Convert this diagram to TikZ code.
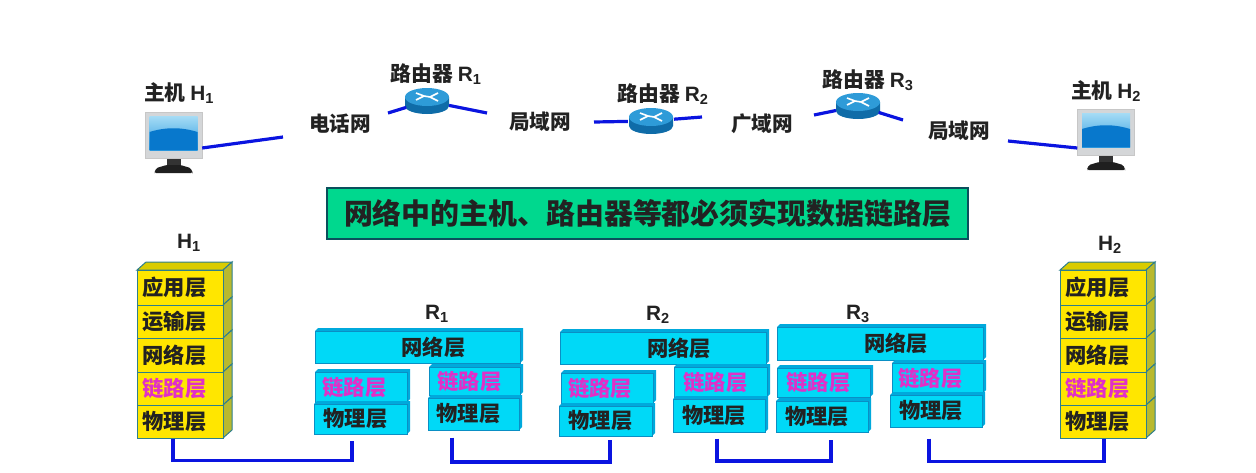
\documentclass[tikz,border=0pt]{standalone}
\usepackage{xcolor}
\usepackage{fontspec}
\setmainfont{Noto Sans CJK SC}
\newfontfamily\latfont{Liberation Sans}
\usepackage{tikz}
\usetikzlibrary{positioning,shapes.geometric}
\definecolor{WireBlue}{HTML}{0A14E0}
\definecolor{StackYellow}{HTML}{FFE600}
\definecolor{StackTop}{HTML}{D9CC00}
\definecolor{StackSide}{HTML}{B9B92E}
\definecolor{StackEdge}{HTML}{2E7F8C}
\definecolor{RouterCyan}{HTML}{00D9F7}
\definecolor{RouterSide}{HTML}{00A9DC}
\definecolor{RouterEdge}{HTML}{0A8FC4}
\definecolor{BannerGreen}{HTML}{00D88E}
\definecolor{BannerEdge}{HTML}{0B4F5C}
\definecolor{LinkPink}{HTML}{E030C8}
\definecolor{InkGrey}{HTML}{222222}
\definecolor{ScreenLight}{HTML}{A6DCF5}
\definecolor{ScreenMid}{HTML}{2E9BE0}
\definecolor{ScreenDark}{HTML}{0878CC}
\definecolor{CaseGrey}{HTML}{D4D6D8}
\definecolor{DiscTop}{HTML}{2E9BD8}
\definecolor{DiscSide}{HTML}{0F6CA8}
\tikzset{
  hlayer/.style={draw=StackEdge,fill=StackYellow,line width=1pt,inner sep=0pt,
    font=\fontsize{21.3}{23}\selectfont\bfseries\color{InkGrey}},
  rlayer/.style={draw=RouterEdge,fill=RouterCyan,line width=1pt,inner sep=0pt,
    font=\fontsize{21.3}{23}\selectfont\bfseries\color{InkGrey}},
  pinktext/.style={text=LinkPink},
  wire/.style={line width=3.6pt,draw=WireBlue,line join=miter},
  netlink/.style={line width=3.2pt,draw=WireBlue},
  devlabel/.style={font=\fontsize{20.8}{22}\selectfont\bfseries\color{InkGrey},inner sep=0pt},
  netlabel/.style={font=\fontsize{20.6}{22}\selectfont\bfseries\color{InkGrey},inner sep=0pt},
  banner/.style={draw=BannerEdge,fill=BannerGreen,line width=1.4pt,
    minimum width=641pt,minimum height=51pt,inner sep=0pt,
    font=\fontsize{28.9}{30}\selectfont\bfseries\color{InkGrey}},
}
% one block of a router stack: [depth]{name}{x1}{y1}{x2}{y2}{style}{text shift}{text}
\newcommand{\layerbox}[9][3]{
  \fill[RouterSide] (#3,#4) -- ++(#1,-#1) -- (#5+#1,#4-#1) -- (#5+#1,#6-#1) -- (#5,#6) -- (#5,#4) -- cycle;
  \node[#7,minimum width={(#5-#3)*1pt},minimum height={(#6-#4)*1pt}] (#2) at ({(#3+#5)/2},{(#4+#6)/2}) {\hspace*{#8pt}#9};
}
% one block of a host stack: {name}{x1}{y1}{x2}{y2}{style}{text shift}{text}
\newcommand{\stackbox}[8]{
  \fill[StackSide] (#4,#3) -- ++(9,-8) -- (#4+9,#5-8) -- (#4,#5) -- cycle;
  \draw[StackEdge,line width=1pt] (#4,#3) -- ++(9,-8) -- (#4+9,#5-8) -- (#4,#5);
  \node[#6,minimum width={(#4-#2)*1pt},minimum height={(#5-#3)*1pt}] (#1) at ({(#2+#4)/2},{(#3+#5)/2}) {\hspace*{#7pt}#8};
}
\newcommand{\stacktop}[3]{
  \filldraw[StackEdge,fill=StackTop,line width=1pt] (#1,#3) -- ++(9,-8) -- (#2+9,#3-8) -- (#2,#3) -- cycle;
}
\newcommand{\hostpc}[3]{
  \fill[black!80] (#2-7,#3+46) rectangle (#2+7,#3+56);
  \fill[black!88,rounded corners=1.5pt] (#2-19,#3+60) -- (#2-17,#3+56) -- (#2-7,#3+53) -- (#2+7,#3+53) -- (#2+17,#3+56) -- (#2+19,#3+60) -- (#2+19,#3+61) -- (#2-19,#3+61) -- cycle;
  \node[draw=black!22,fill=CaseGrey,minimum width=57pt,minimum height=46pt,inner sep=0pt] (#1) at (#2,#3+23) {};
  \shade[top color=ScreenLight,bottom color=ScreenMid] (#2-24,#3+4) rectangle (#2+24,#3+38);
  \fill[ScreenDark] (#2-24,#3+20) .. controls (#2-8,#3+15) and (#2+8,#3+15) .. (#2+24,#3+20) -- (#2+24,#3+38) -- (#2-24,#3+38) -- cycle;
}
\newcommand{\router}[3]{
  \node[ellipse,minimum width=46pt,minimum height=28pt,inner sep=0pt] (#1) at (#2,#3) {};
  \fill[DiscSide] (#2-22,#3-4) -- (#2-22,#3+5) arc[start angle=180,end angle=0,x radius=22,y radius=8] -- (#2+22,#3-4) -- cycle;
  \fill[DiscTop] (#2,#3-4) ellipse[x radius=22,y radius=9];
  \draw[white,line width=1.6pt] (#2-11,#3-8) -- (#2-3,#3-5) -- (#2-11,#3-1) (#2+11,#3-8) -- (#2+3,#3-4) -- (#2+11,#3) (#2-3,#3-5) -- (#2+3,#3-4);
}
\newcommand{\subno}[2]{{\latfont #1\textsubscript{#2}}}
\begin{document}
\begin{tikzpicture}[x=1pt,y=-1pt]
  \useasboundingbox (0,0) rectangle (1256,472);
  % Devices
  \hostpc{h1}{173.5}{112}
  \hostpc{h2}{1106}{109}
  \router{r1}{427}{101}
  \router{r2}{651}{121}
  \router{r3}{858}{106}
  \node[devlabel] (h1label) at (179,93) {主机 \subno{H}{1}};
  \node[devlabel] (h2label) at (1106,91) {主机 \subno{H}{2}};
  \node[devlabel] (r1label) at (436,74) {路由器 \subno{R}{1}};
  \node[devlabel] (r2label) at (663,94) {路由器 \subno{R}{2}};
  \node[devlabel] (r3label) at (868,80) {路由器 \subno{R}{3}};
  % Networks
  \node[netlabel] (net1) at (340,124) {电话网};
  \node[netlabel] (net2) at (540,122) {局域网};
  \node[netlabel] (net3) at (762,124) {广域网};
  \node[netlabel] (net4) at (959,131) {局域网};
  \coordinate (a1) at (283,137);
  \coordinate (a2) at (388,113);
  \coordinate (a3) at (487,113);
  \coordinate (a4) at (594,122);
  \coordinate (a5) at (702,117);
  \coordinate (a6) at (814,115);
  \coordinate (a7) at (903,120);
  \coordinate (a8) at (1008,141);
  \draw[netlink] ([yshift=-13pt]h1.east) -- (a1);
  \draw[netlink] (a2) -- (r1);
  \draw[netlink] (r1) -- (a3);
  \draw[netlink] (a4) -- (r2);
  \draw[netlink] (r2) -- (a5);
  \draw[netlink] (a6) -- (r3);
  \draw[netlink] (r3) -- (a7);
  \draw[netlink] (a8) -- ([yshift=-16pt]h2.west);
  % Banner
  \node[banner] (note) at (647.5,213.5) {网络中的主机、路由器等都必须实现数据链路层};
  % Stack labels
  \node[devlabel] (h1top) at (189,243) {\subno{H}{1}};
  \node[devlabel] (h2top) at (1110,245) {\subno{H}{2}};
  \node[devlabel] (r1top) at (437,314) {\subno{R}{1}};
  \node[devlabel] (r2top) at (658,315) {\subno{R}{2}};
  \node[devlabel] (r3top) at (858,314) {\subno{R}{3}};
  % Host stacks
  \stacktop{137}{223}{270}
  \stackbox{h1app}{137}{270}{223}{305}{hlayer}{-11}{应用层}
  \stackbox{h1tra}{137}{305}{223}{338}{hlayer}{-11}{运输层}
  \stackbox{h1net}{137}{338}{223}{372}{hlayer}{-11}{网络层}
  \stackbox{h1lnk}{137}{372}{223}{405}{hlayer,pinktext}{-11}{链路层}
  \stackbox{h1phy}{137}{405}{223}{438}{hlayer}{-11}{物理层}
  \stacktop{1060}{1146}{270}
  \stackbox{h2app}{1060}{270}{1146}{305}{hlayer}{-11}{应用层}
  \stackbox{h2tra}{1060}{305}{1146}{338}{hlayer}{-11}{运输层}
  \stackbox{h2net}{1060}{338}{1146}{372}{hlayer}{-11}{网络层}
  \stackbox{h2lnk}{1060}{372}{1146}{405}{hlayer,pinktext}{-11}{链路层}
  \stackbox{h2phy}{1060}{405}{1146}{438}{hlayer}{-11}{物理层}
  % Router R1
  \layerbox{r1net}{315}{331}{520}{363}{rlayer}{32}{网络层}
  \layerbox{r1lnl}{315}{372}{407}{402}{rlayer,pinktext}{-13}{链路层}
  \layerbox{r1phl}{314}{404}{407}{434}{rlayer}{-10}{物理层}
  \layerbox{r1lnr}{429}{367}{520}{395}{rlayer,pinktext}{-10}{链路层}
  \layerbox{r1phr}{428}{398}{519}{430}{rlayer}{-10}{物理层}
  % Router R2
  \layerbox{r2net}{560}{332}{766}{364}{rlayer}{32}{网络层}
  \layerbox{r2lnl}{561}{373}{653}{403}{rlayer,pinktext}{-14}{链路层}
  \layerbox{r2phl}{559}{406}{652}{436}{rlayer}{-10}{物理层}
  \layerbox{r2lnr}{674}{367}{767}{397}{rlayer,pinktext}{-10}{链路层}
  \layerbox{r2phr}{673}{399}{765}{432}{rlayer}{-10}{物理层}
  % Router R3
  \layerbox{r3net}{777}{327}{983}{360}{rlayer}{32}{网络层}
  \layerbox{r3lnl}{777}{368}{870}{397}{rlayer,pinktext}{-10}{链路层}
  \layerbox{r3phl}{776}{401}{868}{432}{rlayer}{-10}{物理层}
  \layerbox{r3lnr}{892}{363}{983}{393}{rlayer,pinktext}{-14}{链路层}
  \layerbox{r3phr}{890}{395}{982}{427}{rlayer}{-10}{物理层}
  % Physical links
  \draw[wire] ([xshift=-7pt]h1phy.south) -- ++(0,22) -| ([xshift=-8.5pt,yshift=-6pt]r1phl.south);
  \draw[wire] ([xshift=-21.5pt,yshift=-7pt]r1phr.south) -- ++(0,24.5) -| ([xshift=4.5pt,yshift=-3pt]r2phl.south);
  \draw[wire] ([xshift=-2pt,yshift=-6pt]r2phr.south) -- ++(0,22.5) -| ([xshift=9pt,yshift=-7pt]r3phl.south);
  \draw[wire] ([xshift=-7pt,yshift=-11pt]r3phr.south) -- ++(0,23) -| ([xshift=1pt]h2phy.south);
\end{tikzpicture}
\end{document}
